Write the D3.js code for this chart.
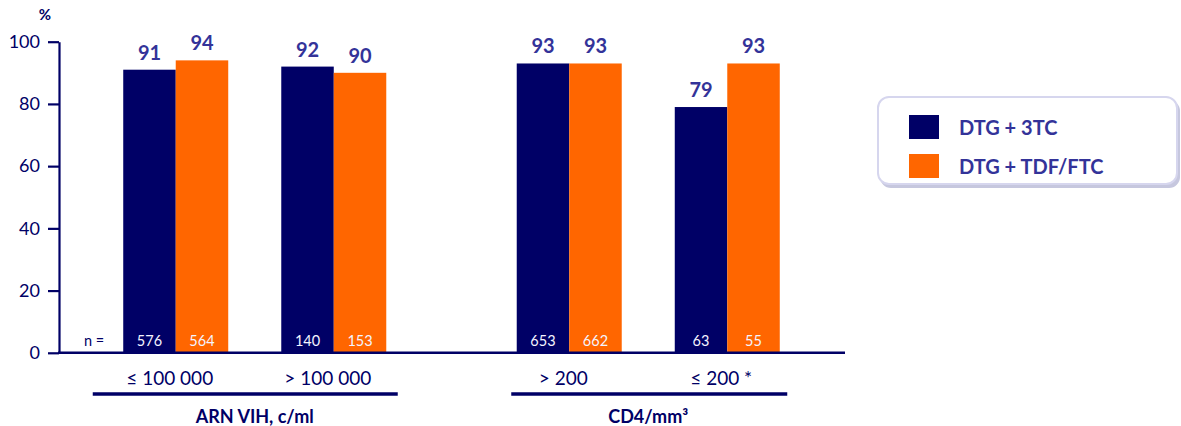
<!DOCTYPE html>
<html>
<head>
<meta charset="utf-8">
<script src="https://cdn.jsdelivr.net/npm/d3@7"></script>
<style>
  html, body { margin: 0; padding: 0; background: #fff; }
  svg { display: block; font-family: Lato, "DejaVu Sans", sans-serif; }
</style>
</head>
<body>
<svg id="chart" width="1181" height="426"></svg>
<script>
// Response rate (%) by baseline subgroup
const panels = ["ARN VIH, c/ml", "CD4/mm³"];
const categories = ["≤ 100 000", "> 100 000", "> 200", "≤ 200 *"];
const categoryPanel = ["ARN VIH, c/ml", "ARN VIH, c/ml", "CD4/mm³", "CD4/mm³"];
const seriesNames = ["DTG + 3TC", "DTG + TDF/FTC"];
const dtg3tc = [91, 92, 93, 79];
const dtgTdfFtc = [94, 90, 93, 93];
const n3tc = [576, 140, 653, 63];
const nTdfFtc = [564, 153, 662, 55];
const yTicks = [0, 20, 40, 60, 80, 100];

const colors = ["#000066", "#FF6600"];
const navy = "#000066";
const labelColor = "#333399";
const fontFamily = "Lato, 'DejaVu Sans', sans-serif";

const svg = d3.select("#chart");

const y = d3.scaleLinear().domain([0, 100]).range([352.8, 41.7]);

// Two panels side by side, each holding two category groups
const xPanel = d3.scaleBand().domain(panels).range([58, 845]).padding(0);
const xCat = d3.scalePoint().domain([0, 1]).range([0, xPanel.bandwidth()]).padding(0.745);
const xSeries = d3.scaleBand().domain(seriesNames).range([-52.5, 52.5]).padding(0);

const catIndexInPanel = categories.map((c, i) =>
  categories.filter((d, j) => j < i && categoryPanel[j] === categoryPanel[i]).length);
const catCenter = i => xPanel(categoryPanel[i]) + xCat(catIndexInPanel[i]);

const rows = [];
categories.forEach((c, i) => {
  rows.push({ cat: i, s: seriesNames[0], v: dtg3tc[i], n: n3tc[i], color: colors[0] });
  rows.push({ cat: i, s: seriesNames[1], v: dtgTdfFtc[i], n: nTdfFtc[i], color: colors[1] });
});

// Bars
svg.append("g").selectAll("rect").data(rows).join("rect")
  .attr("x", d => catCenter(d.cat) + xSeries(d.s))
  .attr("y", d => y(d.v))
  .attr("width", xSeries.bandwidth())
  .attr("height", d => y(0) - y(d.v))
  .attr("fill", d => d.color);

// Value labels above bars
svg.append("g").selectAll("text").data(rows).join("text")
  .attr("x", d => catCenter(d.cat) + xSeries(d.s) + xSeries.bandwidth() / 2)
  .attr("y", d => y(d.v) - 10)
  .attr("text-anchor", "middle")
  .attr("font-size", 20)
  .attr("font-weight", 700)
  .attr("fill", labelColor)
  .text(d => d.v);

// Sample sizes inside bars
svg.append("g").selectAll("text").data(rows).join("text")
  .attr("x", d => catCenter(d.cat) + xSeries(d.s) + xSeries.bandwidth() / 2)
  .attr("y", y(0) - 6.5)
  .attr("text-anchor", "middle")
  .attr("font-size", 14.5)
  .attr("fill", "#f4f4ff")
  .text(d => d.n);

svg.append("text")
  .attr("x", 94).attr("y", y(0) - 6.5)
  .attr("text-anchor", "middle")
  .attr("font-size", 14.5)
  .attr("fill", navy)
  .text("n =");

// Y axis
const yAxis = svg.append("g")
  .attr("transform", `translate(${xPanel.range()[0] + 1},0)`)
  .call(d3.axisLeft(y).tickValues(yTicks).tickSize(11).tickPadding(8).tickSizeOuter(0));
yAxis.select(".domain").attr("stroke", navy).attr("stroke-width", 2.2);
yAxis.selectAll(".tick line").attr("stroke", navy).attr("stroke-width", 2.2);
yAxis.selectAll(".tick text")
  .attr("font-size", 18)
  .attr("font-family", fontFamily)
  .attr("fill", navy);

svg.append("text")
  .attr("x", 45).attr("y", 20)
  .attr("text-anchor", "middle")
  .attr("font-size", 15)
  .attr("font-weight", 700)
  .attr("fill", navy)
  .text("%");

// Baseline
svg.append("line")
  .attr("x1", xPanel.range()[0]).attr("x2", xPanel.range()[1])
  .attr("y1", y(0)).attr("y2", y(0))
  .attr("stroke", navy).attr("stroke-width", 2.4);

// Category labels
svg.append("g").selectAll("text").data(categories).join("text")
  .attr("x", (d, i) => catCenter(i) - 6)
  .attr("y", 385)
  .attr("text-anchor", "middle")
  .attr("font-size", 19)
  .attr("fill", navy)
  .text(d => d);

// Panel underlines and titles
const underline = { "ARN VIH, c/ml": [-162, 143], "CD4/mm³": [-137, 139] };
panels.forEach(p => {
  const c = xPanel(p) + xPanel.bandwidth() / 2;
  svg.append("line")
    .attr("x1", c + underline[p][0]).attr("x2", c + underline[p][1])
    .attr("y1", 394).attr("y2", 394)
    .attr("stroke", navy).attr("stroke-width", 3.6);
  svg.append("text")
    .attr("x", c).attr("y", 423)
    .attr("text-anchor", "middle")
    .attr("font-size", 18)
    .attr("font-weight", 700)
    .attr("fill", navy)
    .text(p);
});

// Legend
const lg = svg.append("g").attr("transform", "translate(878,97)");
lg.append("rect")
  .attr("x", 2).attr("y", 3).attr("width", 300).attr("height", 88).attr("rx", 11)
  .attr("fill", "#c6c7de");
lg.append("rect")
  .attr("x", 0).attr("y", 0).attr("width", 299).attr("height", 87).attr("rx", 11)
  .attr("fill", "#ffffff").attr("stroke", "#d6d6ee").attr("stroke-width", 2);
seriesNames.forEach((s, i) => {
  const row = lg.append("g").attr("transform", `translate(31,${18 + i * 39})`);
  row.append("rect").attr("width", 30).attr("height", 24).attr("fill", colors[i]);
  row.append("text")
    .attr("x", 50).attr("y", 19.5)
    .attr("font-size", 20)
    .attr("font-weight", 700)
    .attr("fill", labelColor)
    .text(s);
});
</script>
</body>
</html>
